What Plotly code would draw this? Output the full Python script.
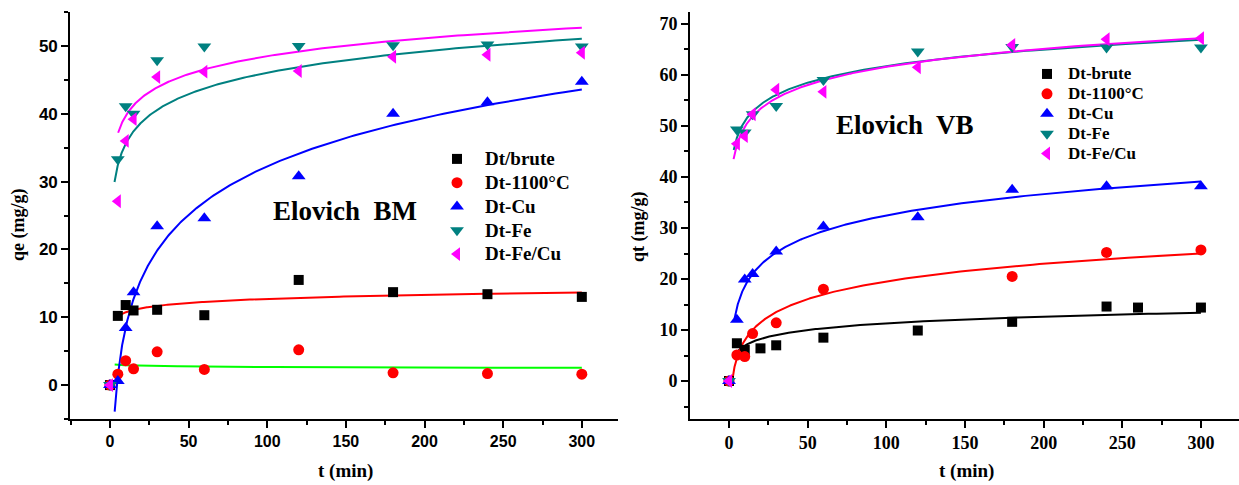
import numpy as np
import plotly.graph_objects as go

W, H = 1239, 485

# ---------------- BM panel (left) ----------------
t_bm = [0, 5, 10, 15, 30, 60, 120, 180, 240, 300]
bm_brute = [0, 10.2, 11.8, 11.0, 11.1, 10.3, 15.5, 13.7, 13.4, 13.0]
bm_1100 = [0, 1.6, 3.6, 2.4, 4.9, 2.3, 5.2, 1.8, 1.7, 1.6]
bm_cu = [0, 0.6, 8.4, 13.7, 23.4, 24.6, 30.8, 40.0, 41.7, 44.7]
bm_fe = [0, 33.3, 41.1, 40.0, 47.9, 49.9, 50.0, 50.1, 50.2, 49.9]
bm_fecu = [0, 27.1, 36.0, 39.2, 45.4, 46.2, 46.3, 48.4, 48.7, 49.0]

# Elovich fit q = a + b*ln(t), drawn from t_start to 300 min
bm_fit_a = [8.75, 3.17, -15.23, 25.1, 30.9]
bm_fit_b = [0.86, -0.109, 10.31, 4.55, 3.82]
bm_fit_t0 = [3.2, 3.0, 3.0, 2.9, 5.2]
bm_fit_colors = ["#FF0000", "#00FF00", "#0000FF", "#008080", "#FF00FF"]

# ---------------- VB panel (right) ----------------
t_vb_brute = [0, 5, 10, 20, 30, 60, 120, 180, 240, 260, 300]
vb_brute = [0, 7.4, 6.1, 6.4, 7.0, 8.5, 9.9, 11.6, 14.6, 14.4, 14.4]
t_vb_1100 = [0, 5, 10, 15, 30, 60, 180, 240, 300]
vb_1100 = [0, 5.1, 4.8, 9.3, 11.4, 18.0, 20.5, 25.2, 25.7]
t_vb = [0, 5, 10, 15, 30, 60, 120, 180, 240, 300]
vb_cu = [0, 12.0, 19.9, 21.0, 25.4, 30.3, 32.1, 37.5, 38.2, 38.2]
vb_fe = [0, 49.3, 48.7, 52.3, 53.9, 59.0, 64.6, 65.5, 65.4, 65.4]
vb_fecu = [0, 46.5, 48.0, 52.3, 57.1, 56.7, 61.5, 65.9, 67.0, 67.2]

vb_fit_a = [2.56, -3.5, 4.66, 40.15, 38.06]
vb_fit_b = [1.9, 5.0, 6.04, 4.69, 5.11]
vb_fit_t0 = [2.7, 2.0, 3.5, 3.0, 2.9]
vb_fit_colors = ["#000000", "#FF0000", "#0000FF", "#008080", "#FF00FF"]

names_bm = ["Dt/brute", "Dt-1100°C", "Dt-Cu", "Dt-Fe", "Dt-Fe/Cu"]
names_vb = ["Dt-brute", "Dt-1100°C", "Dt-Cu", "Dt-Fe", "Dt-Fe/Cu"]
symbols = ["square", "circle", "triangle-up", "triangle-down", "triangle-left"]
marker_colors = ["#000000", "#FF0000", "#0000FF", "#008080", "#FF00FF"]
marker_sizes = [10, 11, 12, 12, 12]

SERIF = "Liberation Serif"
SANS = "Liberation Sans"

fig = go.Figure()

# fitted curves first so the points sit on top
for a, b, t0, c in zip(bm_fit_a, bm_fit_b, bm_fit_t0, bm_fit_colors):
    tt = np.geomspace(t0, 300, 240)
    fig.add_trace(go.Scatter(x=tt, y=a + b * np.log(tt), mode="lines",
                             line=dict(color=c, width=2), showlegend=False,
                             hoverinfo="skip", xaxis="x", yaxis="y"))
for a, b, t0, c in zip(vb_fit_a, vb_fit_b, vb_fit_t0, vb_fit_colors):
    tt = np.geomspace(t0, 300, 240)
    fig.add_trace(go.Scatter(x=tt, y=a + b * np.log(tt), mode="lines",
                             line=dict(color=c, width=2), showlegend=False,
                             hoverinfo="skip", xaxis="x2", yaxis="y2"))

bm_series = [(t_bm, bm_brute), (t_bm, bm_1100), (t_bm, bm_cu), (t_bm, bm_fe), (t_bm, bm_fecu)]
vb_series = [(t_vb_brute, vb_brute), (t_vb_1100, vb_1100), (t_vb, vb_cu), (t_vb, vb_fe), (t_vb, vb_fecu)]


def legend_label(text, size):
    return f'<span style="font-size:{size}px">{text}</span>'


for (tx, qy), n, s, c, sz in zip(bm_series, names_bm, symbols, marker_colors, marker_sizes):
    fig.add_trace(go.Scatter(x=tx, y=qy, mode="markers", name=legend_label(n, 19),
                             marker=dict(symbol=s, color=c, size=sz, line=dict(width=0)),
                             xaxis="x", yaxis="y", legend="legend"))
for (tx, qy), n, s, c, sz in zip(vb_series, names_vb, symbols, marker_colors, marker_sizes):
    fig.add_trace(go.Scatter(x=tx, y=qy, mode="markers", name=legend_label(n, 17),
                             marker=dict(symbol=s, color=c, size=sz, line=dict(width=0)),
                             xaxis="x2", yaxis="y2", legend="legend2"))


def px(x, y):
    return x / W, 1 - y / H


ydom = [(H - 419) / H, (H - 12) / H]


def axis_style(font_family, font_size, dtick, minor_dtick):
    return dict(showline=True, linecolor="black", linewidth=1.6, mirror=False,
                ticks="outside", ticklen=7, tickwidth=1.5, tickcolor="black",
                dtick=dtick, tick0=0, showgrid=False, zeroline=False,
                tickfont=dict(family=font_family, size=font_size, color="black", weight="bold"),
                minor=dict(ticks="outside", ticklen=4, tickwidth=1.5, tickcolor="black",
                           dtick=minor_dtick, tick0=0, showgrid=False))


fig.update_layout(
    width=W, height=H,
    margin=dict(l=0, r=0, t=0, b=0),
    paper_bgcolor="white", plot_bgcolor="white",
    xaxis=dict(domain=[70 / W, 618 / W], range=[-25.4, 323], anchor="y",
               **axis_style(SANS, 16, 50, 25)),
    yaxis=dict(domain=ydom, range=[-5, 55], anchor="x",
               **axis_style(SANS, 17, 10, 5)),
    xaxis2=dict(domain=[690 / W, 1.0], range=[-24.8, 324.2], anchor="y2",
                **axis_style(SERIF, 18, 50, 25)),
    yaxis2=dict(domain=ydom, range=[-7.45, 72.35], anchor="x2",
                **axis_style(SERIF, 18, 10, 5)),
    legend=dict(x=px(429, 0)[0], y=px(0, 142)[1], xanchor="left", yanchor="top",
                bgcolor="rgba(0,0,0,0)", borderwidth=0, tracegroupgap=0, itemwidth=46,
                font=dict(family=SERIF, size=16, color="black", weight="bold")),
    legend2=dict(x=px(1026, 0)[0], y=px(0, 59)[1], xanchor="left", yanchor="top",
                 bgcolor="rgba(0,0,0,0)", borderwidth=0, tracegroupgap=0, itemwidth=32,
                 font=dict(family=SERIF, size=13, color="black", weight="bold")),
)

annots = [
    ("Elovich\u00a0 BM", 345, 211, 27, 0),
    ("Elovich\u00a0 VB", 905, 125, 27, 0),
    ("qe (mg/g)", 18, 225, 18, -90),
    ("qt (mg/g)", 638, 227, 18, -90),
    ("t (min)", 345, 471, 19, 0),
    ("t (min)", 966, 471, 19, 0),
]
for text, x, y, size, ang in annots:
    ax, ay = px(x, y)
    fig.add_annotation(text=text, x=ax, y=ay, xref="paper", yref="paper",
                       xanchor="center", yanchor="middle", showarrow=False,
                       textangle=ang,
                       font=dict(family=SERIF, size=size, color="black", weight="bold"))

fig.write_html("out.html")
